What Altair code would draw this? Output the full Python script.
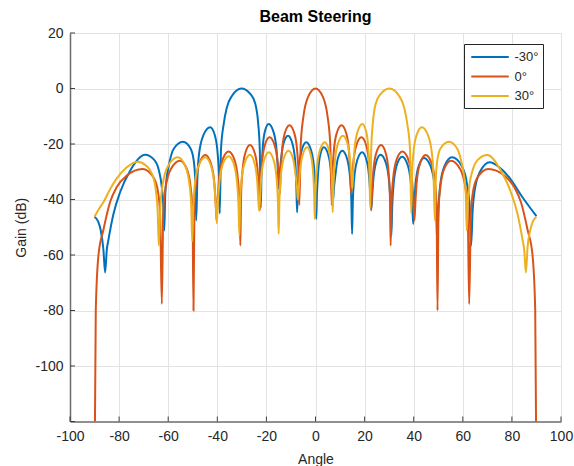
import altair as alt
import pandas as pd

# Array gain patterns (dB) versus angle (degrees) for three steering angles.
angle_m30 = [-90, -88.5, -87.5, -86.4, -85.7, -85.0, -84.4, -82.3, -79.6, -75.5, -69.4, -65.6, -63.8, -62.6, -62.0, -61.6,
             -61.2, -60.6, -59.9, -57.8, -54.0, -50.9, -49.6, -49.0, -48.6, -48.1, -47.5, -45.75, -42.9, -40.95, -39.8, -39.3, -39.0,
             -38.5, -37.4, -36.1, -34.0, -30.2, -26.5, -24.5, -23.4, -22.7, -22.3,
             -22.0, -21.6, -20.7, -19.1, -17.05, -15.8, -15.3, -15.0,
             -14.7, -14.2, -13.1, -11.2, -9.35, -8.2, -7.8, -7.5,
             -7.2, -6.76, -5.65, -3.8, -1.75, -0.5, 0.0, 0.3,
             0.6, 1.0, 1.85, 3.4, 5.3, 6.45, 6.9, 7.2,
             7.5, 7.95, 9.05, 10.9, 12.9, 14.1, 14.6, 14.9,
             15.2, 15.7, 16.95, 19.0, 20.85, 21.95, 22.4, 22.7,
             23.0, 23.45, 24.6, 26.5, 28.7, 30.0, 30.55, 30.9,
             31.25, 31.8, 33.1, 35.3, 37.55, 38.9, 39.45, 39.8,
             40.15, 40.7, 42.0, 44.2, 46.9, 48.5, 49.2, 49.6,
             50.1, 50.8, 52.6, 55.6, 59.5, 61.8, 62.8, 63.4,
             64.0, 64.8, 67.0, 71.0, 75.0, 78.9, 84.3, 90]
gain_m30 = [-46.2, -48.0, -51.0, -58.0, -66.3, -58.0, -54.8, -45.2, -37.4, -29.6, -23.9, -25.8, -29.5, -35.6, -42.0, -51.2,
            -38.0, -32.0, -28.4, -21.8, -19.2, -21.6, -26.0, -33.0, -47.6, -32.0, -24.0, -17.0, -14.0, -17.0, -24.0, -32.0, -45.0,
            -22.0, -12.8, -6.8, -2.6, 0.0, -2.0, -5.6, -12.0, -22.0, -43.0,
            -30.8, -22.8, -15.8, -12.8, -15.8, -22.8, -30.0, -36.0,
            -32.0, -27.0, -20.0, -17.0, -20.0, -27.0, -35.0, -44.6,
            -37.4, -29.4, -22.4, -19.4, -22.4, -29.4, -37.4, -47.0,
            -38.0, -31.2, -24.2, -21.2, -24.2, -31.2, -37.0, -40.0,
            -36.0, -32.4, -25.4, -22.4, -25.4, -32.4, -40.4, -52.4,
            -41.0, -33.0, -26.0, -23.0, -26.0, -33.0, -39.5, -43.5,
            -40.0, -33.9, -26.9, -23.9, -26.9, -33.9, -41.9, -53.0,
            -42.6, -34.6, -27.6, -24.6, -27.6, -34.6, -42.6, -48.8,
            -43.0, -35.0, -28.0, -25.0, -28.0, -35.0, -43.0, -56.0,
            -42.8, -34.8, -27.8, -24.8, -27.8, -34.8, -42.8, -56.6,
            -44.0, -37.0, -30.0, -26.6, -28.5, -32.0, -39.2, -46.0]

angle_0 = [-90, -89.5, -88.4, -86.4, -83.7, -81.0, -76.9, -70.4, -66.0, -64.3, -63.3, -62.6,
           -62.0, -61.1, -58.9, -55.2, -52.4, -50.8, -50.1, -49.7,
           -49.3, -48.7, -47.3, -44.9, -42.6, -41.2, -40.7, -40.3,
           -39.9, -39.3, -37.85, -35.4, -33.0, -31.6, -31.0, -30.6,
           -30.3, -29.8, -28.65, -26.7, -24.7, -23.5, -23.0, -22.7,
           -22.4, -21.9, -20.7, -18.7, -16.6, -15.3, -14.8, -14.5,
           -14.2, -13.7, -12.55, -10.6, -8.6, -7.4, -6.9, -6.6,
           -6.0, -4.9, -3.0, 0.0, 3.0, 4.9, 6.0,
           6.6, 6.9, 7.4, 8.6, 10.6, 12.55, 13.7, 14.2,
           14.5, 14.8, 15.3, 16.6, 18.7, 20.7, 21.9, 22.4,
           22.7, 23.0, 23.5, 24.7, 26.7, 28.65, 29.8, 30.3,
           30.6, 31.0, 31.6, 33.0, 35.4, 37.85, 39.3, 39.9,
           40.3, 40.7, 41.2, 42.6, 44.9, 47.3, 48.7, 49.3,
           49.7, 50.1, 50.8, 52.4, 55.2, 58.9, 61.1, 62.0,
           62.6, 63.3, 64.3, 66.0, 70.4, 76.9, 81.0, 83.7, 86.4, 88.4, 89.5, 90]
gain_0 = [-140, -80.0, -60.0, -51.0, -41.0, -35.6, -31.4, -29.0, -32.0, -36.5, -45.0, -77.7,
          -44.0, -36.0, -29.0, -26.0, -29.0, -36.0, -44.0, -80.0,
          -42.0, -34.0, -27.0, -24.0, -27.0, -34.0, -41.0, -47.5,
          -40.7, -32.7, -25.7, -22.7, -25.7, -32.7, -40.7, -56.6,
          -38.4, -30.4, -23.4, -20.4, -23.4, -30.4, -37.5, -44.0,
          -35.6, -27.6, -20.6, -17.6, -20.6, -27.6, -33.5, -38.0,
          -31.2, -23.2, -16.2, -13.2, -16.2, -23.2, -31.2, -42.0,
          -20.0, -10.0, -3.0, 0.0, -3.0, -10.0, -20.0,
          -42.0, -31.2, -23.2, -16.2, -13.2, -16.2, -23.2, -31.2,
          -38.0, -33.5, -27.6, -20.6, -17.6, -20.6, -27.6, -35.6,
          -44.0, -37.5, -30.4, -23.4, -20.4, -23.4, -30.4, -38.4,
          -56.6, -40.7, -32.7, -25.7, -22.7, -25.7, -32.7, -40.7,
          -47.5, -41.0, -34.0, -27.0, -24.0, -27.0, -34.0, -42.0,
          -80.0, -44.0, -36.0, -29.0, -26.0, -29.0, -36.0, -44.0,
          -77.7, -45.0, -36.5, -32.0, -29.0, -31.4, -35.6, -41.0, -51.0, -60.0, -80.0, -140]

angle_p30 = [-90, -88.3, -86.4, -83.5, -81.0, -77.0, -72.5, -69.0, -66.5, -65.0, -64.3, -63.8,
             -63.2, -62.3, -60.0, -56.1, -53.1, -51.3, -50.6, -50.2,
             -49.8, -49.2, -47.6, -44.9, -42.6, -41.2, -40.6, -40.2,
             -39.85, -39.2, -37.8, -35.4, -33.2, -31.9, -31.35, -31.0,
             -30.7, -30.25, -28.85, -26.7, -24.85, -23.7, -23.3, -23.0,
             -22.7, -22.2, -21.0, -19.0, -17.0, -15.8, -15.3, -15.0,
             -14.7, -14.2, -13.0, -11.0, -9.1, -7.95, -7.5, -7.2,
             -6.9, -6.45, -5.3, -3.4, -1.85, -0.9, -0.55, -0.3,
             0.0, 0.5, 1.75, 3.8, 5.5, 6.5, 6.8, 7.0,
             7.3, 7.8, 9.1, 11.2, 13.1, 14.2, 14.7, 15.0,
             15.3, 15.8, 17.05, 19.1, 20.7, 21.6, 22.0, 22.3,
             22.7, 23.4, 24.5, 26.5, 30.2, 34.0, 36.1, 37.4, 38.5, 39.0,
             39.3, 39.8, 41.1, 43.3, 45.9, 47.5, 48.1, 48.6,
             49.0, 49.6, 50.9, 54.4, 57.8, 59.9, 60.6, 61.2, 61.6,
             62.0, 62.6, 64.0, 66.0, 70.0, 75.5, 79.6, 82.3, 84.4, 85.0, 85.7,
             86.4, 87.5, 88.5, 90]
gain_p30 = [-46.2, -43.5, -41.0, -36.0, -32.5, -28.5, -26.4, -27.8, -31.0, -37.0, -44.0, -56.6,
            -42.8, -34.8, -27.8, -24.8, -27.8, -34.8, -42.8, -55.0,
            -42.8, -34.8, -27.8, -24.8, -27.8, -34.8, -42.0, -48.6,
            -42.4, -34.4, -27.4, -24.4, -27.4, -34.4, -42.4, -53.0,
            -40.0, -33.9, -26.9, -23.9, -26.9, -33.9, -40.0, -44.0,
            -41.0, -33.0, -26.0, -23.0, -26.0, -33.0, -41.0, -52.4,
            -40.4, -32.4, -25.4, -22.4, -25.4, -32.4, -36.0, -40.0,
            -37.0, -31.2, -24.2, -21.2, -24.2, -31.2, -38.0, -47.0,
            -37.4, -29.4, -22.4, -19.4, -22.4, -29.4, -36.0, -44.6,
            -35.0, -27.0, -20.0, -17.0, -20.0, -27.0, -32.0, -36.0,
            -30.8, -22.8, -15.8, -12.8, -15.8, -22.8, -30.8, -43.0,
            -22.0, -12.0, -5.6, -2.0, 0.0, -2.6, -6.8, -12.8, -22.0, -45.0,
            -32.0, -24.0, -17.0, -14.0, -17.0, -24.0, -32.0, -47.6,
            -33.0, -26.0, -21.6, -19.2, -21.8, -28.4, -32.0, -38.0, -51.2,
            -42.0, -35.6, -29.5, -25.8, -24.0, -29.6, -37.4, -45.2, -54.8, -58.0, -66.3,
            -57.0, -51.0, -48.0, -46.2]

series_names = ["-30°", "0°", "30°"]
series_colors = ["#0072BD", "#D95319", "#EDB120"]
x_ticks = [-100, -80, -60, -40, -20, 0, 20, 40, 60, 80, 100]
y_ticks = [-100, -80, -60, -40, -20, 0, 20]

W, H = 491, 388.5
FONT = "Liberation Sans"
TEXT = "#262626"

x_scale = alt.Scale(domain=[-100, 100], nice=False, zero=False)
y_scale = alt.Scale(domain=[-120, 20], nice=False, zero=False)
x_axis = alt.Axis(values=x_ticks, title="Angle", ticks=False, tickSize=0, labelPadding=8,
                  titlePadding=9, labelExpr="'' + datum.value", titleFontWeight="normal",
                  labelFlush=False, labelOverlap=False)
y_axis = alt.Axis(values=y_ticks, title="Gain (dB)", ticks=False, tickSize=0, labelPadding=7,
                  titlePadding=6, labelExpr="'' + datum.value", titleFontWeight="normal",
                  labelFlush=False, labelOverlap=False)

color = alt.Color(
    "series:N",
    scale=alt.Scale(domain=series_names, range=series_colors),
    legend=alt.Legend(
        title=None, orient="none", legendX=394, legendY=11,
        symbolType="M-2.5,0H2.5", symbolSize=225, symbolStrokeWidth=2,
        symbolOffset=13, labelOffset=16, rowPadding=3.5, padding=4.5,
        labelFont=FONT, labelFontSize=13, labelColor=TEXT,
        strokeColor="#262626", fillColor="white", cornerRadius=0,
    ),
)


def series_layer(name, angles, gains):
    df = pd.DataFrame({"angle": angles, "gain": gains, "series": name,
                       "idx": list(range(len(angles)))})
    return alt.Chart(df).mark_line(strokeWidth=2, interpolate="monotone", clip=True).encode(
        x=alt.X("angle:Q", scale=x_scale, axis=x_axis),
        y=alt.Y("gain:Q", scale=y_scale, axis=y_axis),
        color=color,
        order="idx:Q",
    )


lines = [
    series_layer(series_names[0], angle_m30, gain_m30),
    series_layer(series_names[1], angle_0, gain_0),
    series_layer(series_names[2], angle_p30, gain_p30),
]

# inward tick marks along the bottom and left axes
xt = alt.Chart(pd.DataFrame({"t": x_ticks})).mark_rule(color="#404040", strokeWidth=1).encode(
    x=alt.X("t:Q", scale=x_scale, axis=x_axis),
    y=alt.value(H), y2=alt.value(H - 5),
)
yt = alt.Chart(pd.DataFrame({"t": y_ticks + [-120]})).mark_rule(color="#404040", strokeWidth=1).encode(
    y=alt.Y("t:Q", scale=y_scale, axis=y_axis),
    x=alt.value(0), x2=alt.value(5),
)

chart = alt.layer(*lines, xt, yt).properties(
    width=W, height=H,
    background="white",
    title=alt.TitleParams("Beam Steering", font=FONT, fontSize=16, fontWeight="bold",
                          color="black", anchor="middle", offset=1),
    autosize=alt.AutoSizeParams(type="none"),
    padding={"left": 70, "top": 33, "right": 13, "bottom": 44.5},
).configure_axis(
    labelFont=FONT, labelFontSize=14, labelColor=TEXT,
    titleFont=FONT, titleFontSize=14, titleFontWeight="normal", titleColor=TEXT,
    gridColor="#e3e3e3", gridWidth=1,
    domainColor="#6b6b6b", domainWidth=1.5,
).configure_view(stroke=None)

chart.save("out.html", embed_options={"renderer": "svg", "actions": False})
